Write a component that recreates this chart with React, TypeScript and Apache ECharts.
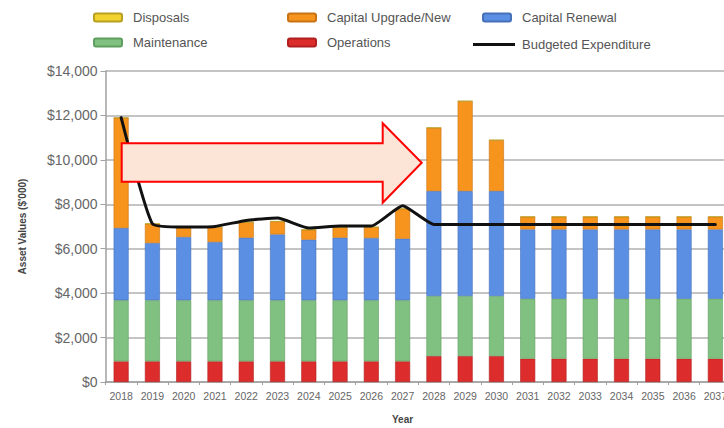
import React, { useEffect, useRef } from "react";
import * as echarts from "echarts";

const years = ["2018","2019","2020","2021","2022","2023","2024","2025","2026","2027","2028","2029","2030","2031","2032","2033","2034","2035","2036","2037"];
const disposals = [0,0,0,0,0,0,0,0,0,0,0,0,0,0,0,0,0,0,0,0];
const operations = [930,930,930,930,930,930,930,930,930,930,1170,1170,1170,1050,1050,1050,1050,1050,1050,1050];
const maintenance = [2750,2750,2750,2750,2750,2750,2750,2750,2750,2750,2700,2700,2700,2700,2700,2700,2700,2700,2700,2700];
const capitalRenewal = [3250,2575,2845,2620,2815,2965,2725,2815,2800,2770,4725,4725,4725,3120,3120,3120,3120,3120,3120,3120];
const capitalUpgrade = [4965,870,435,675,705,585,450,480,495,1350,2850,4050,2295,570,570,570,570,570,570,570];
const budgeted = [11900,7125,6975,7005,7275,7380,6930,7020,7020,7935,7095,7095,7095,7095,7095,7095,7095,7095,7095,7095];
const yTicks = [0,2000,4000,6000,8000,10000,12000,14000];

const FONT = "Arial, 'Liberation Sans', sans-serif";

export default function App() {
  const ref = useRef<HTMLDivElement>(null);
  useEffect(() => {
    if (!ref.current) return;
    const chart = echarts.init(ref.current, undefined, { renderer: "svg" });
    const barBase = (name: string, data: number[], color: string, border: string) => ({
      name,
      type: "bar",
      stack: "total",
      data,
      barWidth: 15,
      itemStyle: { color, borderColor: border, borderWidth: 0.6 },
    });
    const legendItem = (name: string, left: number, top: number, extra: any = {}) => ({
      data: [name],
      left,
      top,
      padding: 0,
      itemWidth: 28,
      itemHeight: 8,
      selectedMode: false,
      textStyle: { fontFamily: FONT, fontSize: 13, color: "#555", padding: [0, 0, 0, 6] },
      ...extra,
    });
    chart.setOption({
      animation: false,
      textStyle: { fontFamily: FONT },
      legend: [
        legendItem("Disposals", 93, 11),
        legendItem("Maintenance", 93, 36),
        legendItem("Capital Upgrade/New", 287, 11),
        legendItem("Operations", 287, 36),
        legendItem("Capital Renewal", 482, 11),
        {
          ...legendItem("Budgeted Expenditure", 473, 38),
          data: [{ name: "Budgeted Expenditure", icon: "rect" }],
          itemWidth: 42,
          itemHeight: 3,
          itemStyle: { color: "#111", borderWidth: 0 },
          textStyle: { fontFamily: FONT, fontSize: 13, color: "#555", padding: [0, 0, 0, 2] },
        },
      ],
      grid: { left: 105.5, right: 0, top: 71, bottom: 46 },
      xAxis: {
        type: "category",
        data: years,
        axisLine: { lineStyle: { color: "#a0a0a0", width: 1.5 } },
        axisTick: { show: true, length: 3, lineStyle: { color: "#a0a0a0" } },
        axisLabel: { fontSize: 10.5, color: "#666", margin: 8, interval: 0, fontFamily: FONT },
      },
      yAxis: {
        type: "value",
        min: yTicks[0],
        max: yTicks[yTicks.length - 1],
        interval: 2000,
        name: "Asset Values ($'000)",
        nameLocation: "middle",
        nameGap: 78,
        nameTextStyle: { fontSize: 10, fontWeight: "bold", color: "#444", fontFamily: FONT },
        axisLine: { show: true, lineStyle: { color: "#a0a0a0", width: 1.5 } },
        axisTick: { show: true, length: 5, lineStyle: { color: "#a0a0a0" } },
        axisLabel: {
          fontSize: 14,
          color: "#666",
          margin: 8,
          fontFamily: FONT,
          formatter: (v: number) => "$" + v.toLocaleString("en-US"),
        },
        splitLine: { lineStyle: { color: "#b0b0b0", width: 1.5 } },
      },
      series: [
        barBase("Operations", operations, "#dd2c2c", "#b02020"),
        barBase("Maintenance", maintenance, "#80c080", "#5f9f5f"),
        barBase("Capital Renewal", capitalRenewal, "#5b8fe3", "#4670b8"),
        barBase("Capital Upgrade/New", capitalUpgrade, "#f7941d", "#c87416"),
        barBase("Disposals", disposals, "#f2d22e", "#b8a020"),
        {
          name: "Budgeted Expenditure",
          type: "line",
          data: budgeted,
          symbol: "none",
          smooth: 0.15,
          z: 5,
          itemStyle: { color: "#111" },
          lineStyle: { color: "#111", width: 3, cap: "round", join: "round" },
        },
      ],
      graphic: [
        {
          type: "polygon",
          z: 100,
          shape: {
            points: [
              [121.7, 143.3],
              [382.7, 143.3],
              [382.7, 123.3],
              [421.7, 162.7],
              [382.7, 202.7],
              [382.7, 181.7],
              [121.7, 181.7],
            ],
          },
          style: { fill: "#fce5d7", stroke: "#ff0000", lineWidth: 2 },
        },
        {
          type: "text",
          left: 392,
          top: 414,
          style: { text: "Year", font: "bold 10px Arial, 'Liberation Sans', sans-serif", fill: "#444" },
        },
      ],
    });
    return () => chart.dispose();
  }, []);
  return (
    <div style={{ position: "fixed", left: 0, top: 0, width: 724, height: 428, overflow: "hidden", background: "#fff" }}>
      <div ref={ref} style={{ width: 731, height: 428 }} />
    </div>
  );
}
